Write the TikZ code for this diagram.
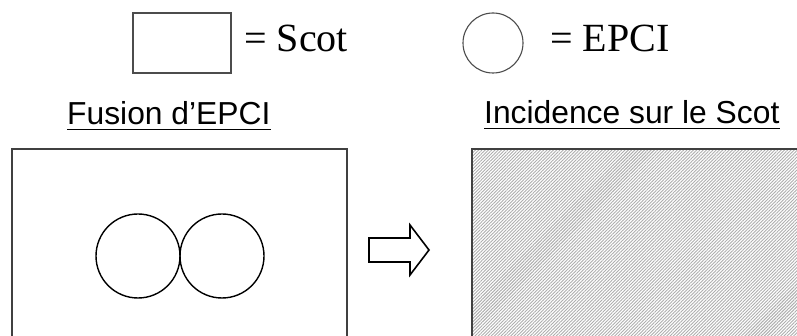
\documentclass[tikz,border=0pt]{standalone}
\usepackage{fontspec}
\setmainfont{Liberation Serif}
\newfontfamily\arialfont{Liberation Sans}
\usetikzlibrary{patterns.meta}
\begin{document}
\begin{tikzpicture}[x=1pt,y=-1pt,
  legendbox/.style={draw=black!70,line width=1.1pt},
  frame/.style={draw=black!75,line width=1.6pt},
  epci/.style={draw=black,line width=1.4pt},
  serif/.style={anchor=base west,inner sep=0pt,font=\fontsize{40}{44}\selectfont},
  title/.style={anchor=base west,inner sep=0pt,font=\arialfont\fontsize{31.8}{36}\selectfont},
  uline/.style={line width=1.9pt}]
\useasboundingbox (0,0) rectangle (797,336);
% legend
\node[legendbox,minimum width=98pt,minimum height=60pt,inner sep=0pt] (lr) at (182,43) {};
\node[serif] (ls) at (244,52) {= Scot};
\node[legendbox,circle,minimum size=60pt,inner sep=0pt] (lc) at (493,43) {};
\node[serif] (le) at (550,52) {= EPCI};
% titles
\node[title] (t1) at (67,125) {Fusion d’EPCI};
\draw[uline] ([yshift=-4.5pt]t1.base west) -- ([yshift=-4.5pt]t1.base east);
\node[title] (t2) at (484,124) {Incidence sur le Scot};
\draw[uline] ([yshift=-4.5pt]t2.base west) -- ([yshift=-4.5pt]t2.base east);
% left frame
\draw[frame] (12,345) -- (12,149) -- (347,149) -- (347,345);
\node[epci,circle,minimum size=84pt,inner sep=0pt] (c1) at (138,256) {};
\node[epci,circle,minimum size=84pt,inner sep=0pt] (c2) at (222,256) {};
% arrow
\draw[line width=1.6pt,line join=miter,fill=white]
  (369,238) -- (410,238) -- (410,225) -- (429,250) -- (410,275) -- (410,262) -- (369,262) -- cycle;
% right hatched frame
\fill[pattern={Lines[angle=45,distance=2.3pt,line width=0.9pt]},pattern color=black!32]
  (472,149) rectangle (805,345);
\draw[frame] (472,345) -- (472,149) -- (805,149);
\end{tikzpicture}
\end{document}
